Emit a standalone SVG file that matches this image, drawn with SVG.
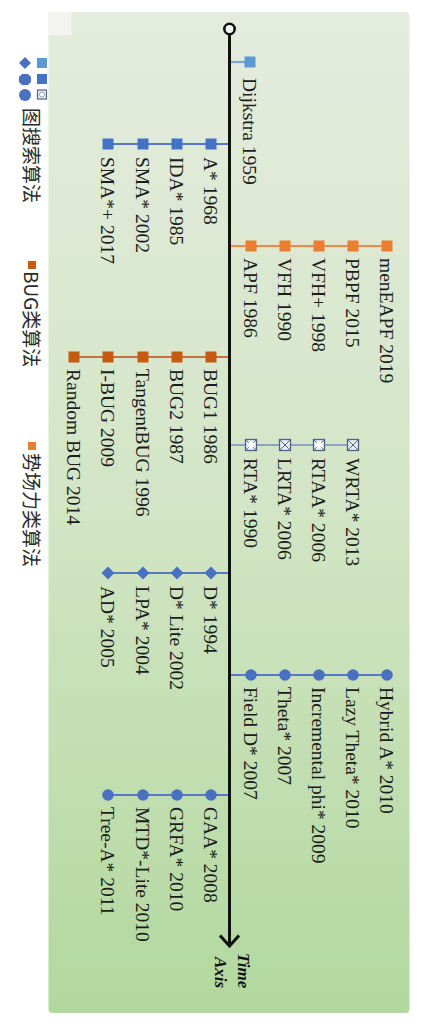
<svg xmlns="http://www.w3.org/2000/svg" width="421" height="1024" viewBox="0 0 421 1024">
<defs>
<linearGradient id="bg" x1="0" y1="0" x2="0" y2="1">
<stop offset="0" stop-color="#e5ecdf"/>
<stop offset="0.5" stop-color="#d2e5c5"/>
<stop offset="1" stop-color="#b2d89e"/>
</linearGradient>
<g id="sqX">
<rect x="-5.5" y="-5.5" width="11" height="11" fill="#e9eff6" stroke="#4f6484" stroke-width="1.3"/>
<path d="M-5 -5 L5 5 M5 -5 L-5 5" stroke="#4f6484" stroke-width="1"/>
</g>
<g id="sqO">
<rect x="-5.5" y="-5.5" width="11" height="11" fill="#e9eff6" stroke="#4f6484" stroke-width="1.3"/>
<path d="M-5 -5 L5 5 M5 -5 L-5 5" stroke="#4f6484" stroke-width="1"/>
<circle r="3.2" fill="#ffffff"/>
</g>
</defs>
<style>
.lbl{font-family:"Liberation Serif","Times New Roman",serif;font-size:19.5px;fill:#1c1c1c}
.leg{font-family:"Noto Sans CJK SC","Noto Sans",sans-serif;font-size:19px;fill:#2a2a2a}
.ax{font-family:"Liberation Serif","Times New Roman",serif;font-size:17px;font-weight:bold;font-style:italic;fill:#111}
.bl{stroke:#5679c2;stroke-width:2.2;fill:none}
.lb{stroke:#7fa6d6;stroke-width:2.2;fill:none}
.or{stroke:#ec8a4c;stroke-width:2.2;fill:none}
.br{stroke:#c8703a;stroke-width:2.2;fill:none}
.sl{stroke:#8da2c8;stroke-width:2.2;fill:none}
.sqb{fill:#4472c4}
.sqlb{fill:#5b9bd5}
.sqo{fill:#ed7d31}
.sqbr{fill:#c55a11}
.cb{fill:#4a70c2}
</style>
<rect id="background" x="48.5" y="12" width="361" height="1001" rx="4" fill="url(#bg)"/>
<rect x="48.5" y="12" width="23" height="23" fill="#f3f4f1"/>

<g id="legend">
<path d="M25 57 L31 63 L25 69 L19 63 Z" class="cb"/>
<rect x="37" y="58" width="10" height="10" class="sqlb"/>
<polygon points="22,74 28,74 31,77 31,82 28,85 22,85 19,82 19,77" class="cb"/>
<rect x="37" y="74" width="10" height="10" class="sqb"/>
<circle cx="25" cy="95" r="6" class="cb"/>
<rect x="37.5" y="90" width="9" height="9" fill="#eef2f7" stroke="#4f6484" stroke-width="1.2"/>
<circle cx="42" cy="94.5" r="2.6" fill="#ffffff" stroke="#4f6484" stroke-width="0.6"/>
<text class="leg" transform="translate(31,108) rotate(90)" dy="0.36em">图搜索算法</text>
<rect x="28" y="261" width="8" height="8" class="sqbr"/>
<text class="leg" transform="translate(31,271) rotate(90)" dy="0.36em">BUG类算法</text>
<rect x="28" y="442" width="8" height="8" class="sqo"/>
<text class="leg" transform="translate(31,453) rotate(90)" dy="0.36em">势场力类算法</text>
</g>

<g id="connectors">
<line x1="229.5" y1="62" x2="250" y2="62" class="lb"/>
<line x1="229.5" y1="144" x2="108" y2="144" class="bl"/>
<line x1="229.5" y1="246" x2="387" y2="246" class="or"/>
<line x1="229.5" y1="357" x2="74" y2="357" class="br"/>
<line x1="229.5" y1="445" x2="353" y2="445" class="sl"/>
<line x1="229.5" y1="573" x2="108" y2="573" class="bl"/>
<line x1="229.5" y1="675" x2="387" y2="675" class="bl"/>
<line x1="229.5" y1="795" x2="108" y2="795" class="bl"/>
</g>

<g id="time-axis">
<line x1="229.5" y1="34" x2="229.5" y2="946" stroke="#111" stroke-width="3"/>
<circle cx="229.5" cy="29" r="5.2" fill="#f2f4ef" stroke="#111" stroke-width="2.6"/>
<polyline points="220,935.5 229.5,946 239,935.5" fill="none" stroke="#111" stroke-width="3" stroke-linejoin="miter"/>
<text class="ax" transform="translate(244,953) rotate(90)" dy="0.36em">Time</text>
<text class="ax" transform="translate(221,957) rotate(90)" dy="0.36em">Axis</text>
</g>

<g id="node-dijkstra">
<rect x="244.5" y="56.5" width="11" height="11" class="sqlb"/>
<text class="lbl" transform="translate(250,78) rotate(90)" dy="0.35em">Dijkstra 1959</text>
</g>

<g id="group-astar">
<rect x="205.5" y="138.5" width="11" height="11" class="sqb"/>
<rect x="171.5" y="138.5" width="11" height="11" class="sqb"/>
<rect x="137.5" y="138.5" width="11" height="11" class="sqb"/>
<rect x="102.5" y="138.5" width="11" height="11" class="sqb"/>
<text class="lbl" transform="translate(211,157) rotate(90)" dy="0.35em">A* 1968</text>
<text class="lbl" transform="translate(177,157) rotate(90)" dy="0.35em">IDA* 1985</text>
<text class="lbl" transform="translate(143,157) rotate(90)" dy="0.35em">SMA* 2002</text>
<text class="lbl" transform="translate(108,157) rotate(90)" dy="0.35em">SMA*+ 2017</text>
</g>

<g id="group-apf">
<rect x="245.5" y="240.5" width="11" height="11" class="sqo"/>
<rect x="279.5" y="240.5" width="11" height="11" class="sqo"/>
<rect x="313.5" y="240.5" width="11" height="11" class="sqo"/>
<rect x="347.5" y="240.5" width="11" height="11" class="sqo"/>
<rect x="381.5" y="240.5" width="11" height="11" class="sqo"/>
<text class="lbl" transform="translate(251,258) rotate(90)" dy="0.35em">APF 1986</text>
<text class="lbl" transform="translate(285,258) rotate(90)" dy="0.35em">VFH 1990</text>
<text class="lbl" transform="translate(319,258) rotate(90)" dy="0.35em">VFH+ 1998</text>
<text class="lbl" transform="translate(353,258) rotate(90)" dy="0.35em">PBPF 2015</text>
<text class="lbl" transform="translate(387,258) rotate(90)" dy="0.35em">menEAPF 2019</text>
</g>

<g id="group-bug">
<rect x="205.5" y="351.5" width="11" height="11" class="sqbr"/>
<rect x="171.5" y="351.5" width="11" height="11" class="sqbr"/>
<rect x="137.5" y="351.5" width="11" height="11" class="sqbr"/>
<rect x="102.5" y="351.5" width="11" height="11" class="sqbr"/>
<rect x="68.5" y="351.5" width="11" height="11" class="sqbr"/>
<text class="lbl" transform="translate(211,369) rotate(90)" dy="0.35em">BUG1 1986</text>
<text class="lbl" transform="translate(177,369) rotate(90)" dy="0.35em">BUG2 1987</text>
<text class="lbl" transform="translate(143,369) rotate(90)" dy="0.35em">TangentBUG 1996</text>
<text class="lbl" transform="translate(108,369) rotate(90)" dy="0.35em">I-BUG 2009</text>
<text class="lbl" transform="translate(74,369) rotate(90)" dy="0.35em">Random BUG 2014</text>
</g>

<g id="group-rta">
<use href="#sqO" x="251" y="445"/>
<use href="#sqX" x="285" y="445"/>
<use href="#sqO" x="319" y="445"/>
<use href="#sqX" x="353" y="445"/>
<text class="lbl" transform="translate(251,458) rotate(90)" dy="0.35em">RTA* 1990</text>
<text class="lbl" transform="translate(285,458) rotate(90)" dy="0.35em">LRTA* 2006</text>
<text class="lbl" transform="translate(319,458) rotate(90)" dy="0.35em">RTAA* 2006</text>
<text class="lbl" transform="translate(353,458) rotate(90)" dy="0.35em">WRTA* 2013</text>
</g>

<g id="group-dstar">
<path d="M211 566.5 L217.5 573 L211 579.5 L204.5 573 Z" class="cb"/>
<path d="M177 566.5 L183.5 573 L177 579.5 L170.5 573 Z" class="cb"/>
<path d="M143 566.5 L149.5 573 L143 579.5 L136.5 573 Z" class="cb"/>
<path d="M108 566.5 L114.5 573 L108 579.5 L101.5 573 Z" class="cb"/>
<text class="lbl" transform="translate(211,586) rotate(90)" dy="0.35em">D* 1994</text>
<text class="lbl" transform="translate(177,586) rotate(90)" dy="0.35em">D* Lite 2002</text>
<text class="lbl" transform="translate(143,586) rotate(90)" dy="0.35em">LPA* 2004</text>
<text class="lbl" transform="translate(108,586) rotate(90)" dy="0.35em">AD* 2005</text>
</g>

<g id="group-fielddstar">
<circle cx="251" cy="675" r="5.8" class="cb"/>
<circle cx="285" cy="675" r="5.8" class="cb"/>
<circle cx="319" cy="675" r="5.8" class="cb"/>
<circle cx="353" cy="675" r="5.8" class="cb"/>
<circle cx="387" cy="675" r="5.8" class="cb"/>
<text class="lbl" transform="translate(251,687) rotate(90)" dy="0.35em">Field D* 2007</text>
<text class="lbl" transform="translate(285,687) rotate(90)" dy="0.35em">Theta* 2007</text>
<text class="lbl" transform="translate(319,687) rotate(90)" dy="0.35em">Incremental phi* 2009</text>
<text class="lbl" transform="translate(353,687) rotate(90)" dy="0.35em">Lazy Theta* 2010</text>
<text class="lbl" transform="translate(387,687) rotate(90)" dy="0.35em">Hybrid A* 2010</text>
</g>

<g id="group-gaa">
<circle cx="211" cy="795" r="5.8" class="cb"/>
<circle cx="177" cy="795" r="5.8" class="cb"/>
<circle cx="143" cy="795" r="5.8" class="cb"/>
<circle cx="108" cy="795" r="5.8" class="cb"/>
<text class="lbl" transform="translate(211,807) rotate(90)" dy="0.35em">GAA* 2008</text>
<text class="lbl" transform="translate(177,807) rotate(90)" dy="0.35em">GRFA* 2010</text>
<text class="lbl" transform="translate(143,807) rotate(90)" dy="0.35em">MTD*-Lite 2010</text>
<text class="lbl" transform="translate(108,807) rotate(90)" dy="0.35em">Tree-A* 2011</text>
</g>
</svg>
